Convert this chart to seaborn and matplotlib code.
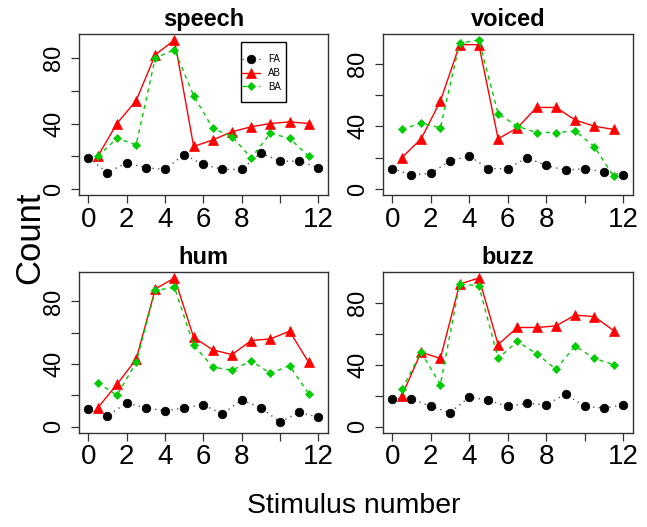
import numpy as np
import pandas as pd
import matplotlib
matplotlib.use("Agg")
import matplotlib.pyplot as plt
from matplotlib.patches import Rectangle
import seaborn as sns

# ---- data ----
panels = ["speech", "voiced", "hum", "buzz"]
fa_x = list(range(0, 13))
ab_x = [0.5 + i for i in range(12)]

fa_speech = [19, 10, 16, 13, 12, 21, 15, 12, 12, 22, 17, 17, 13]
ab_speech = [20, 40, 54, 82, 91, 26, 30, 35, 38, 40, 41, 40]
ba_speech = [20, 31, 27, 80, 85, 57, 37, 32, 19, 34, 31, 20]

fa_voiced = [13, 9, 10, 18, 21, 13, 13, 20, 15, 12, 13, 11, 9]
ab_voiced = [20, 32, 56, 92, 92, 32, 39, 52, 52, 44, 40, 38]
ba_voiced = [38, 42, 39, 93, 95, 48, 40, 36, 36, 37, 27, 8]

fa_hum = [11, 7, 15, 12, 10, 12, 14, 8, 17, 12, 3, 9, 6]
ab_hum = [12, 27, 43, 88, 95, 57, 49, 46, 55, 56, 61, 41]
ba_hum = [28, 20, 41, 87, 89, 52, 38, 36, 42, 34, 39, 21]

fa_buzz = [18, 18, 13, 9, 19, 17, 13, 15, 14, 21, 13, 12, 14]
ab_buzz = [20, 48, 44, 92, 96, 53, 64, 64, 65, 72, 71, 62]
ba_buzz = [24, 48, 27, 92, 91, 44, 55, 47, 37, 52, 44, 40]

data = {
    "speech": (fa_speech, ab_speech, ba_speech),
    "voiced": (fa_voiced, ab_voiced, ba_voiced),
    "hum": (fa_hum, ab_hum, ba_hum),
    "buzz": (fa_buzz, ab_buzz, ba_buzz),
}
series_names = ["FA", "AB", "BA"]
xticks = [0, 2, 4, 6, 8, 10, 12]
xticklabels = ["0", "2", "4", "6", "8", "", "12"]
yticks = [0, 20, 40, 60, 80]
yticklabels = ["0", "", "40", "", "80"]

sns.set_style("white")
plt.rcParams["font.family"] = ["Liberation Sans", "DejaVu Sans"]
plt.rcParams["text.color"] = "black"
plt.rcParams["xtick.color"] = "black"
plt.rcParams["ytick.color"] = "black"
plt.rcParams["axes.labelcolor"] = "black"

W, H = 647, 527
fig = plt.figure(figsize=(W / 100, H / 100), dpi=100)

# axes boxes in pixels: left, top, right, bottom
boxes = {
    "speech": (79, 34, 327.5, 195),
    "voiced": (383, 34, 632.5, 195),
    "hum": (79, 272, 327.5, 432.5),
    "buzz": (383, 272, 632.5, 432.5),
}

red = "#FF0000"
green = "#00CD00"

for name in panels:
    l, t, r, b = boxes[name]
    axw, axh = r - l, b - t
    ax = fig.add_axes([l / W, 1 - b / H, axw / W, axh / H])
    fa, ab, ba = data[name]
    df_fa = pd.DataFrame({"x": fa_x, "y": fa})
    df_ab = pd.DataFrame({"x": ab_x, "y": ab})
    df_ba = pd.DataFrame({"x": ab_x, "y": ba})

    sns.lineplot(data=df_fa, x="x", y="y", ax=ax, color="#555555",
                 linestyle=(0, (1, 3)), linewidth=1.0, marker="o",
                 markersize=6.2, markerfacecolor="black",
                 markeredgecolor="black", markeredgewidth=0.5,
                 label="FA", legend=False)
    sns.lineplot(data=df_ab, x="x", y="y", ax=ax, color=red,
                 linestyle="-", linewidth=1.0, marker="^",
                 markersize=6.5, markerfacecolor=red, markeredgecolor=red,
                 markeredgewidth=0.5, label="AB", legend=False)
    sns.lineplot(data=df_ba, x="x", y="y", ax=ax, color=green,
                 linestyle=(0, (3, 3)), linewidth=1.0, marker="D",
                 markersize=4.0, markerfacecolor=green, markeredgecolor=green,
                 markeredgewidth=0.5, label="BA", legend=False)

    M = max(max(fa), max(ab), max(ba))
    ax.set_ylim(-0.04 * M, 1.04 * M)
    ax.set_xlim(-0.48, 12.48)
    ax.set_xticks(xticks)
    ax.set_xticklabels(xticklabels, fontsize=20)
    ax.set_yticks(yticks)
    ax.set_yticklabels(yticklabels, fontsize=17, rotation=90, va="center")
    ax.tick_params(axis="both", direction="out", length=6, width=0.9,
                   color="#333333", bottom=True, left=True)
    ax.tick_params(axis="x", pad=2.5)
    ax.tick_params(axis="y", pad=4)
    for s in ax.spines.values():
        s.set_color("#333333")
        s.set_linewidth(1.0)
        s.set_visible(True)
    ax.set_xlabel("")
    ax.set_ylabel("")
    ax.set_title(name, fontsize=17, fontweight="bold", pad=5.5)

    if name == "speech":
        # legend entries, frame drawn separately
        lx, ly = (242 - l) / axw, 1 - (73 - t) / axh
        leg = ax.legend(loc="center left", bbox_to_anchor=(lx, ly),
                        frameon=False, handlelength=1.9, handletextpad=0.75,
                        labelspacing=0.38, borderpad=0, borderaxespad=0,
                        prop={"size": 7})
        rx0, rx1 = (241 - l) / axw, (286 - l) / axw
        ry0, ry1 = 1 - (102 - t) / axh, 1 - (42 - t) / axh
        ax.add_patch(Rectangle((rx0, ry0), rx1 - rx0, ry1 - ry0,
                               transform=ax.transAxes, fill=False,
                               edgecolor="black", linewidth=1.0, zorder=5))

fig.text(30 / W, 1 - 238 / H, "Count", rotation=90, ha="center",
         va="center", fontsize=25)
fig.text(354 / W, 1 - 506 / H, "Stimulus number", ha="center",
         va="center", fontsize=20.5)

fig.savefig("out.png", dpi=100)
